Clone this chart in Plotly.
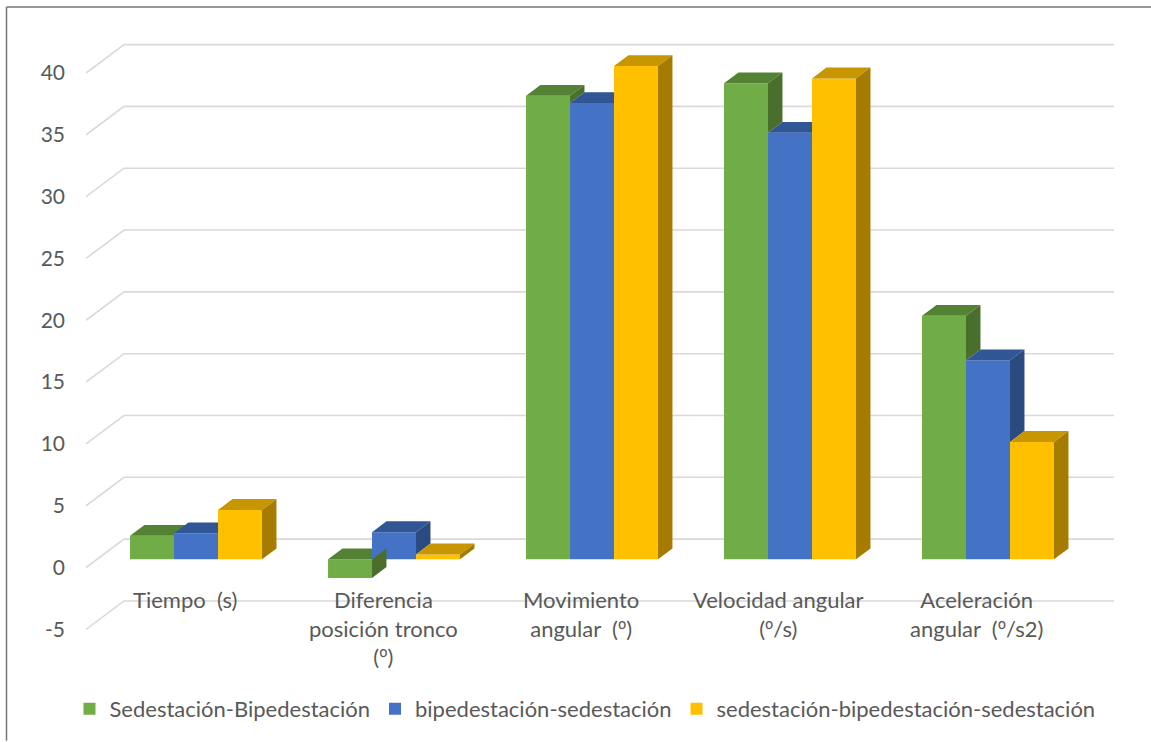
import plotly.graph_objects as go

# ---- data -------------------------------------------------------------
ORD = "<span style='font-family:Noto Sans'>º</span>"
categories = [
    "Tiempo\u00a0 (s)",
    f"Diferencia<br>posición tronco<br>({ORD})",
    f"Movimiento<br>angular\u00a0 ({ORD})",
    f"Velocidad angular<br>({ORD}/s)",
    f"Aceleración<br>angular\u00a0 ({ORD}/s2)",
]
series_names = [
    "Sedestación-Bipedestación",
    "bipedestación-sedestación",
    "sedestación-bipedestación-sedestación",
]
sed_bip = [1.9, -1.5, 37.5, 38.5, 19.7]
bip_sed = [2.1, 2.2, 36.9, 34.5, 16.1]
sed_bip_sed = [4.0, 0.4, 39.9, 38.9, 9.5]
y_ticks = [-5, 0, 5, 10, 15, 20, 25, 30, 35, 40]
y_tick_labels = ["-5", "0", "5", "10", "15", "20", "25", "30", "35", "40"]

series_values = [sed_bip, bip_sed, sed_bip_sed]
front_colors = ["#70AD47", "#4472C4", "#FFC000"]
top_colors = ["#548235", "#305696", "#C79600"]
side_colors = ["#4A6F2C", "#2B4A80", "#A67C00"]

# ---- figure geometry --------------------------------------------------
W, H = 1151, 742
ML, MR, MT, MB = 86, 37, 30, 62
TEXT = "#595959"
FONT = "Lato"

DX = 0.192        # depth offset of the back wall (category units)
DY = 2.30         # depth offset of the back wall (value units)
BAR_FRONT = 0.29  # depth fraction of the bar front faces
BAR_DEPTH = 0.38  # bar thickness as depth fraction
BW = 2.0 / 9.0    # width of one bar (category units)

x_range = [-0.5, len(categories) - 0.5 + DX]
y_range = [-8.85, 43.48]

# bars live on overlay axes shifted back by their depth
sx, sy = BAR_FRONT * DX, BAR_FRONT * DY
x2_range = [x_range[0] - sx, x_range[1] - sx]
y2_range = [y_range[0] - sy, y_range[1] - sy]
tdx, tdy = BAR_DEPTH * DX, BAR_DEPTH * DY

fig = go.Figure()

# wall gridlines: front-left edge, left wall diagonal, back wall
gx, gy = [], []
for v in y_ticks:
    gx += [x_range[0], x_range[0] + DX, len(categories) - 0.5 + DX, None]
    gy += [v, v + DY, v + DY, None]
fig.add_trace(go.Scatter(x=gx, y=gy, mode="lines",
                         line=dict(color="#D9D9D9", width=1.6),
                         hoverinfo="skip", showlegend=False))

# front faces
for s, (name, vals) in enumerate(zip(series_names, series_values)):
    fig.add_trace(go.Bar(
        x=list(range(len(categories))), y=vals, name=name,
        width=BW, offset=-1.5 * BW + s * BW,
        marker=dict(color=front_colors[s], line=dict(width=0)),
        xaxis="x2", yaxis="y2",
    ))

# top and side faces, clipped where the neighbouring bar hides them
for s, vals in enumerate(series_values):
    tx, ty, px, py = [], [], [], []
    for c, v in enumerate(vals):
        xl = c - 1.5 * BW + s * BW
        xr = xl + BW
        top, bot = max(v, 0), min(v, 0)
        nxt = series_values[s + 1][c] if s + 1 < len(series_values) else None
        n_top = max(nxt, 0) if nxt is not None else None
        n_bot = min(nxt, 0) if nxt is not None else None

        # top face
        if n_top is None or n_top <= top:
            tx += [xl, xr, xr + tdx, xl + tdx, xl, None]
            ty += [top, top, top + tdy, top + tdy, top, None]
        elif n_top >= top + tdy:
            tx += [xl, xr, xr, xl + tdx, xl, None]
            ty += [top, top, top + tdy, top + tdy, top, None]
        else:
            xe = xr + (n_top - top) / tdy * tdx
            tx += [xl, xr, xr, xe, xr + tdx, xl + tdx, xl, None]
            ty += [top, top, n_top, n_top, top + tdy, top + tdy, top, None]

        # side face: parts outside the neighbour's extent
        spans = [(bot, top)]
        if nxt is not None:
            spans = []
            if top > n_top:
                spans.append((max(bot, n_top), top))
            if bot < n_bot:
                spans.append((bot, min(top, n_bot)))
        for a, b in spans:
            px += [xr, xr + tdx, xr + tdx, xr, xr, None]
            py += [a, a + tdy, b + tdy, b, a, None]

    fig.add_trace(go.Scatter(x=tx, y=ty, mode="lines", fill="toself",
                             fillcolor=top_colors[s], line=dict(width=0),
                             hoverinfo="skip", showlegend=False,
                             xaxis="x2", yaxis="y2"))
    fig.add_trace(go.Scatter(x=px, y=py, mode="lines", fill="toself",
                             fillcolor=side_colors[s], line=dict(width=0),
                             hoverinfo="skip", showlegend=False,
                             xaxis="x2", yaxis="y2"))

# category labels along the front edge of the floor
for c, label in enumerate(categories):
    fig.add_annotation(x=c, y=0, xref="x", yref="y", text=label,
                       showarrow=False, yanchor="top", xanchor="center",
                       yshift=-16, align="center",
                       font=dict(family=FONT, size=22, color=TEXT))

# chart border (left and top edges)
pw, ph = W - ML - MR, H - MT - MB
def px2paper_x(p):
    return (p - ML) / pw
def px2paper_y(p):
    return (H - MB - p) / ph

border = dict(color="#767676", width=1.5)
fig.add_shape(type="line", xref="paper", yref="paper",
              x0=px2paper_x(6.5), x1=px2paper_x(W + 2),
              y0=px2paper_y(7), y1=px2paper_y(7), line=border)
fig.add_shape(type="line", xref="paper", yref="paper",
              x0=px2paper_x(6.5), x1=px2paper_x(6.5),
              y0=px2paper_y(7), y1=px2paper_y(H + 2), line=border)

fig.update_layout(
    width=W, height=H,
    margin=dict(l=ML, r=MR, t=MT, b=MB),
    paper_bgcolor="white", plot_bgcolor="rgba(0,0,0,0)",
    barmode="overlay",
    font=dict(family=FONT, color=TEXT),
    xaxis=dict(range=x_range, visible=False, fixedrange=True),
    yaxis=dict(range=y_range, tickvals=y_ticks, ticktext=y_tick_labels,
               showgrid=False, zeroline=False, showline=False, ticks="",
               ticklabelstandoff=20,
               tickfont=dict(family=FONT, size=21, color=TEXT),
               fixedrange=True),
    xaxis2=dict(range=x2_range, overlaying="x", visible=False,
                fixedrange=True),
    yaxis2=dict(range=y2_range, overlaying="y", visible=False,
                fixedrange=True),
    legend=dict(orientation="h", x=px2paper_x(585), xanchor="center",
                y=px2paper_y(712), yanchor="middle",
                font=dict(family=FONT, size=22, color=TEXT),
                bgcolor="rgba(0,0,0,0)", traceorder="normal"),
    showlegend=True,
)

fig.write_html("out.html")
